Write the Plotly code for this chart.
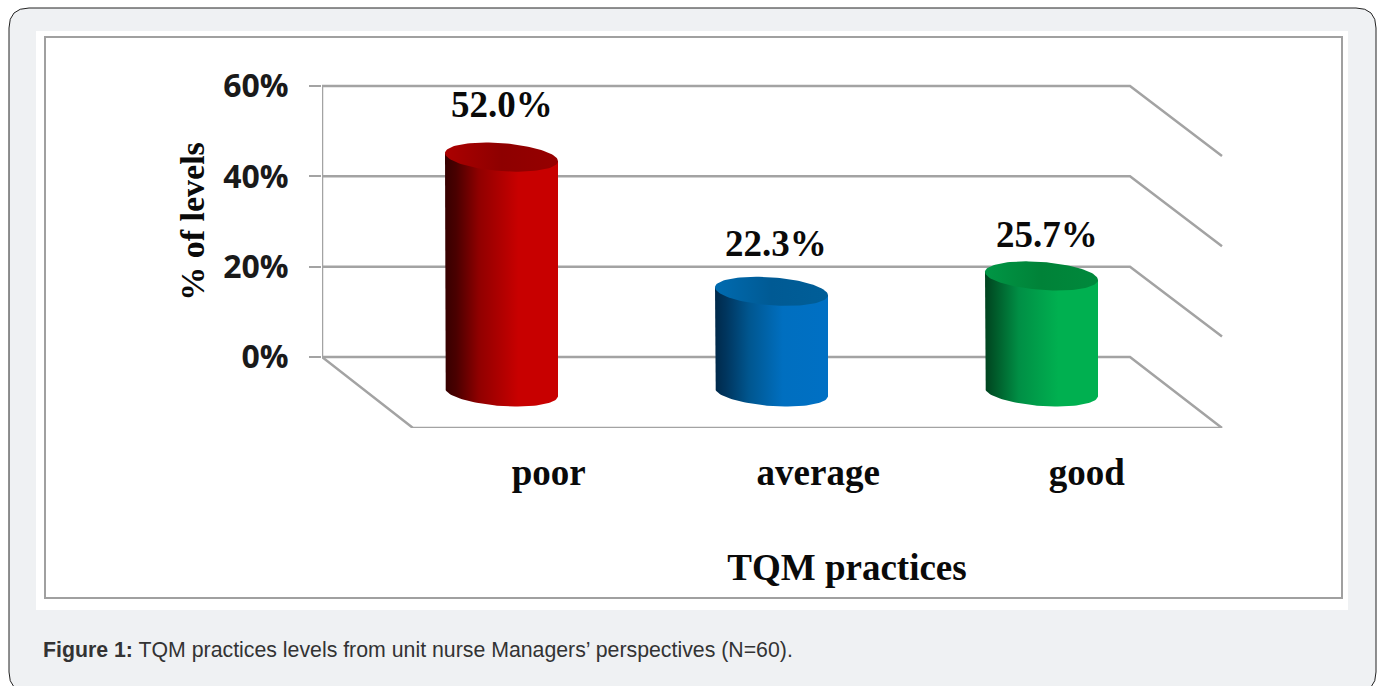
import numpy as np
import plotly.graph_objects as go

categories = ["poor", "average", "good"]
values = [52.0, 22.3, 25.7]
value_labels = ["52.0%", "22.3%", "25.7%"]
y_ticks = [0, 20, 40, 60]
y_tick_labels = ["0%", "20%", "40%", "60%"]

W, H = 1380, 686
L, R, T, B = 322, 1372, 15, 428      # plot area in page pixels
X_UNIT = 270.0                       # px per category
Y_UNIT = (357 - 86) / 60.0           # px per percent
X0 = 501.5                           # px of first category centre
xr = [(L - X0) / X_UNIT, (R - X0) / X_UNIT]
yr = [(357 - B) / Y_UNIT, (357 - T) / Y_UNIT]

wall_l = (322 - X0) / X_UNIT
wall_r = (1130 - X0) / X_UNIT
depth_x = (1222 - 1130) / X_UNIT
depth_y = -(428 - 357) / Y_UNIT
floor_shift = [0.175, 0.173, 0.168]
grey = "#a3a3a3"

def px(x): return (x - L) / (R - L)
def py(y): return (B - y) / (B - T)

def rrect(x0, y0, x1, y1, r):
    a, b, c, d = px(x0), px(x1), py(y0), py(y1)
    rx, ry = r / (R - L), r / (B - T)
    return (f"M {a+rx} {c} L {b-rx} {c} Q {b} {c} {b} {c-ry} L {b} {d+ry} Q {b} {d} {b-rx} {d} "
            f"L {a+rx} {d} Q {a} {d} {a} {d+ry} L {a} {c-ry} Q {a} {c} {a+rx} {c} Z")

fig = go.Figure()

def line(xs, ys):
    fig.add_trace(go.Scatter(x=xs, y=ys, mode="lines", line=dict(color=grey, width=2.5),
                             hoverinfo="skip", showlegend=False))

# back wall and side wall grid lines
for t in y_ticks:
    line([wall_l, wall_r, wall_r + depth_x], [t, t, t + depth_y * (1 if t == 0 else 0.985)])
line([wall_l, wall_l], [y_ticks[0], y_ticks[-1]])
# floor
line([wall_l, wall_l + (413 - 322) / X_UNIT, wall_r + depth_x], [0, depth_y, depth_y])

# cylinders
a = 56.5 / X_UNIT
b = 14.0 / Y_UNIT
k = 4.0 / Y_UNIT
base = -7.75
body_scales = [
    [[0, "#360000"], [0.1, "#4a0000"], [0.3, "#900000"], [0.65, "#c80000"], [1, "#c80000"]],
    [[0, "#00294a"], [0.1, "#00365f"], [0.3, "#00568f"], [0.6, "#006fc0"], [1, "#0070c4"]],
    [[0, "#00431f"], [0.1, "#005c2b"], [0.3, "#008f45"], [0.65, "#00b050"], [1, "#00b050"]],
]
cap_scales = [
    [[0, "#ab0000"], [0.5, "#8e0000"], [1, "#960000"]],
    [[0, "#006bb0"], [0.5, "#005a94"], [1, "#005e98"]],
    [[0, "#009645"], [0.5, "#008238"], [1, "#00893c"]],
]
t_low = np.linspace(np.pi, 0, 60)
t_all = np.linspace(0, 2 * np.pi, 120)
for i, v in enumerate(values):
    top = base + v
    xb = i + a * np.cos(t_low)
    yb = base - b * np.sin(t_low) - k * np.cos(t_low)
    xs = np.concatenate([[i - a], xb, [i + a]])
    ys = np.concatenate([[top + k], yb, [top - k]])
    fig.add_trace(go.Scatter(x=xs, y=ys, mode="lines", fill="toself", line=dict(width=0),
                             fillgradient=dict(type="horizontal", colorscale=body_scales[i]),
                             hoverinfo="skip", showlegend=False))
    fig.add_trace(go.Scatter(x=i + a * np.cos(t_all),
                             y=top + b * np.sin(t_all) - k * np.cos(t_all),
                             mode="lines", fill="toself", line=dict(width=0),
                             fillgradient=dict(type="horizontal", colorscale=cap_scales[i]),
                             hoverinfo="skip", showlegend=False))

serif = "Liberation Serif"
ink = "#0a0a0a"
label_dx = [0.0, 0.015, 0.02]
label_dy = [4.0, 2.9, 1.5]
annotations = [
    dict(x=i + label_dx[i], y=v + label_dy[i], xref="x", yref="y", text=f"<b>{value_labels[i]}</b>",
         showarrow=False, xanchor="center", yanchor="middle",
         font=dict(family=serif, size=37, color=ink))
    for i, v in enumerate(values)
]
annotations.append(dict(
    x=px(41), y=py(650), xref="paper", yref="paper", xanchor="left", yanchor="middle",
    showarrow=False, align="left",
    text="<b>Figure 1:</b> TQM practices levels from unit nurse Managers\u2019 perspectives (N=60).",
    font=dict(family="Liberation Sans", size=21.3, color="#333333")))

shapes = [
    dict(type="path", xref="paper", yref="paper", path=rrect(9, 8, 1376, 692, 20), layer="below",
         fillcolor="#eff1f3", line=dict(color="#222222", width=1)),
    dict(type="rect", xref="paper", yref="paper", x0=px(36), x1=px(1348), y0=py(610), y1=py(31),
         layer="below", fillcolor="#ffffff", line=dict(width=0)),
    dict(type="rect", xref="paper", yref="paper", x0=px(45), x1=px(1342), y0=py(598), y1=py(37),
         layer="below", fillcolor="#ffffff", line=dict(color="#a0a0a0", width=2)),
]

fig.update_layout(
    width=W, height=H, margin=dict(l=L, r=W - R, t=T, b=H - B, autoexpand=False),
    paper_bgcolor="#ffffff", plot_bgcolor="rgba(0,0,0,0)", showlegend=False,
    shapes=shapes, annotations=annotations,
    xaxis=dict(range=xr, tickmode="array", tickvals=[i + floor_shift[i] for i in range(3)],
               ticktext=[f"<b>{c}</b>" for c in categories],
               tickfont=dict(family=serif, size=37, color=ink),
               ticks="outside", ticklen=12, tickcolor="rgba(0,0,0,0)", showgrid=False, zeroline=False,
               showline=False,
               title=dict(text="<b>TQM practices</b>", standoff=61,
                          font=dict(family=serif, size=37, color=ink))),
    yaxis=dict(range=yr, tickmode="array", tickvals=y_ticks, ticktext=[f"<b>{s}</b>" for s in y_tick_labels],
               tickfont=dict(family="Open Sans", size=32, color="#1a1a1a"),
               ticks="outside", ticklen=12, tickwidth=2, tickcolor=grey, ticklabelstandoff=14,
               showgrid=False, zeroline=False, showline=False,
               title=dict(text="<b>% of levels</b>", standoff=8,
                          font=dict(family=serif, size=34, color=ink))),
)
fig.write_html("out.html", config=dict(displayModeBar=False),
               post_script="document.body.style.margin='0';document.body.style.overflow='hidden';")
